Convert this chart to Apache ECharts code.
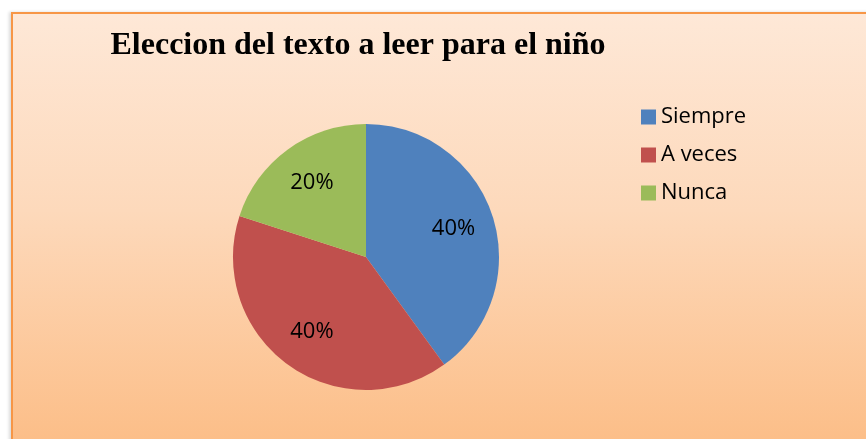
<!DOCTYPE html>
<html>
<head>
<meta charset="utf-8">
<script src="https://cdn.jsdelivr.net/npm/echarts@6/dist/echarts.min.js"></script>
<style>
  html, body { margin: 0; padding: 0; background: #fff; }
  .frame {
    position: absolute; left: 11px; top: 12px; width: 870px; height: 440px;
    border: 2px solid #f79646; box-sizing: border-box;
    background: linear-gradient(to bottom, #fee8d7 0%, #fdd9bb 45%, #fcbd86 100%);
    box-shadow: -2px 0 3px rgba(0,0,0,0.15);
  }
  #chart { position: absolute; left: 0; top: 0; width: 866px; height: 439px; }
</style>
</head>
<body>
<div class="frame"></div>
<div id="chart"></div>
<script>
const titleText = 'Eleccion del texto a leer para el niño';
const categories = ['Siempre', 'A veces', 'Nunca'];
const values = [40, 40, 20];
const colors = ['#4f81bd', '#c0504d', '#9bbb59'];

const chart = echarts.init(document.getElementById('chart'));
const data = categories.map((name, i) => ({ name, value: values[i], itemStyle: { color: colors[i] } }));

chart.setOption({
  backgroundColor: 'transparent',
  animation: false,
  title: {
    text: titleText,
    left: 353, top: 25, textAlign: 'center',
    textStyle: { fontFamily: 'Liberation Serif', fontWeight: 'bold', fontSize: 32, color: '#000' },
  },
  legend: {
    orient: 'vertical',
    left: 636, top: 101,
    icon: 'rect', itemWidth: 15, itemHeight: 15, itemGap: 16,
    data: categories,
    textStyle: { fontFamily: 'Open Sans', fontSize: 22, color: '#000' },
  },
  series: [
    {
      type: 'pie',
      center: [366, 257],
      radius: [0, 133],
      startAngle: 90,
      clockwise: true,
      label: { show: false },
      labelLine: { show: false },
      data,
    },
    {
      // transparent copy only for placing labels farther out than mid-radius
      type: 'pie',
      silent: true,
      center: [366, 257],
      radius: [0, 178],
      startAngle: 90,
      clockwise: true,
      itemStyle: { color: 'transparent' },
      label: {
        show: true, position: 'inside',
        formatter: (p) => p.percent.toFixed(0) + '%',
        fontFamily: 'Open Sans', fontSize: 22, color: '#000',
      },
      labelLine: { show: false },
      data: categories.map((name, i) => ({ name, value: values[i], itemStyle: { color: 'transparent' } })),
    },
  ],
});
</script>
</body>
</html>
